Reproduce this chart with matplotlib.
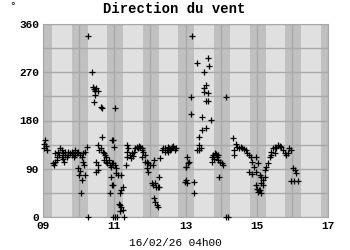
import matplotlib
matplotlib.use("Agg")
from matplotlib import pyplot as plt
import numpy as np

# jour (decimal, fevrier) et direction du vent en degres
jours = [9.03, 9.03, 9.06, 9.08, 9.10,
         9.29, 9.31, 9.34, 9.34, 9.38, 9.38, 9.43, 9.45, 9.48, 9.52, 9.52, 9.57, 9.57, 9.60,
         9.62, 9.62, 9.67, 9.71, 9.71, 9.76, 9.81, 9.81, 9.85, 9.88, 9.90, 9.90, 9.95, 9.99,
         10.04, 10.09, 10.13, 10.18, 10.23,
         9.99, 10.04, 10.02, 10.18, 10.09, 10.06, 10.11, 10.14,
         10.27, 10.27, 10.37, 10.40, 10.42, 10.45, 10.48, 10.55, 10.45, 10.43, 10.62, 10.65,
         10.65, 10.93, 11.01,
         10.55, 10.58, 10.62, 10.67, 10.70, 10.74, 10.78, 10.72, 10.76, 10.80, 10.84, 10.88,
         10.91, 10.94, 10.50, 10.55,
         10.53, 10.50, 10.91, 10.93, 10.89, 10.97,
         10.97, 11.00, 10.97, 11.01, 11.06, 11.04, 11.10, 11.18, 10.97,
         11.16, 11.20, 11.25, 11.13, 11.16, 11.20, 11.25, 11.17, 11.03, 11.07, 11.27,
         11.36, 11.38, 11.37, 11.36, 11.34,
         11.45, 11.50, 11.54, 11.59, 11.64, 11.69, 11.73, 11.78, 11.66, 11.48, 11.52,
         11.78, 11.82, 11.87, 11.78, 11.85, 11.92, 11.96, 12.01, 11.92, 11.96,
         12.12, 12.10, 12.25,
         12.06, 12.10, 12.15, 12.18, 12.22, 12.26,
         12.12, 12.15, 12.20, 12.24,
         12.29,
         12.34, 12.38, 12.43, 12.47, 12.50, 12.54, 12.57, 12.62, 12.66, 12.70, 12.43, 12.52,
         12.60, 12.74,
         13.00, 13.00,
         13.19, 13.32, 13.62, 13.66, 13.52,
         13.52, 13.57, 13.52, 13.62, 13.57, 13.62,
         13.15, 14.13,
         13.15, 13.47, 13.71,
         13.57, 13.47, 13.38,
         13.38, 13.43, 13.38, 13.33,
         13.05, 13.10, 13.02, 13.07,
         12.98, 13.05, 13.24, 13.24,
         13.75, 13.78, 13.82, 13.85, 13.80, 13.88, 13.92, 13.97, 14.02, 14.06, 13.74, 13.90,
         13.94,
         14.13, 14.18,
         14.32, 14.41, 14.46, 14.50, 14.37, 14.60, 14.69, 14.74, 14.79, 14.83, 14.88, 14.79,
         14.88, 14.93, 14.97, 15.02, 15.07, 14.35, 14.55, 14.65,
         14.98, 15.03, 14.98, 15.08, 15.12, 15.17, 15.22, 15.12, 15.17, 15.08, 15.03, 15.12,
         15.22, 15.26, 15.31, 15.36, 15.40, 15.45, 15.50, 15.54, 15.59, 15.64, 15.69, 15.73,
         15.78, 15.82, 15.87, 15.92, 15.97, 15.50, 15.40,
         16.01, 16.08, 16.11, 15.97, 16.06, 16.15]

direction = [136, 128, 143, 132, 125,
             100, 97, 103, 119, 106, 112, 122, 116, 128, 125, 112, 119, 109, 103,
             122, 116, 112, 122, 116, 119, 116, 122, 119, 112, 125, 116, 119, 122,
             116, 112, 119, 122, 131,
             91, 85, 78, 78, 69, 45, 103, 97,
             338, 0, 270, 243, 239, 235, 240, 235, 227, 215, 206, 203,
             150, 144, 203,
             134, 125, 128, 122, 119, 116, 112, 106, 103, 100, 106, 97,
             94, 100, 103, 97,
             88, 84, 75, 60, 45, 0,
             143, 131, 100, 97, 91, 83, 78, 78, 60,
             45, 50, 56, 25, 22, 19, 13, 11, 0, 0, 0,
             134, 128, 122, 112, 97,
             116, 119, 122, 128, 131, 133, 131, 128, 129, 110, 114,
             125, 122, 116, 112, 103, 103, 100, 97, 91, 84,
             106, 97, 75,
             63, 60, 63, 56, 56, 56,
             35, 28, 22, 19,
             110,
             125, 128, 128, 125, 131, 128, 125, 131, 133, 125, 122, 122,
             127, 128,
             69, 94,
             338, 287, 296, 282, 270,
             240, 246, 234, 231, 216, 216,
             224, 224,
             192, 187, 181,
             166, 162, 150,
             134, 128, 125, 125,
             112, 103, 94, 100,
             66, 63, 66, 45,
             112, 116, 120, 118, 108, 112, 106, 103, 100, 97, 103, 115,
             75,
             0, 0,
             147, 137, 131, 128, 116, 128, 125, 119, 116, 112, 103, 84,
             81, 94, 60, 53, 50, 125, 130, 127,
             112, 100, 84, 78, 75, 69, 75, 63, 60, 50, 47, 45,
             88, 94, 100, 112, 122, 128, 131, 128, 134, 132, 131, 125,
             119, 116, 120, 128, 125, 119, 116,
             91, 87, 82, 68, 68, 68]

x_ticks = [9, 11, 13, 15, 17]
x_labels = ["09", "11", "13", "15", "17"]
y_ticks = [0, 90, 180, 270, 360]

mono = "Liberation Mono"

fig = plt.figure(figsize=(3.5, 2.5), dpi=100)
ax = fig.add_axes([0.123, 0.132, 0.814, 0.772])
ax.set_facecolor("#e0e0e0")

# bandes de nuit (env. 19h15 -> 06h00)
for d in range(8, 17):
    ax.axvspan(d + 19.2 / 24, d + 1 + 6.0 / 24, color="#c0c0c0", lw=0, zorder=0)

ax.set_xlim(9, 17)
ax.set_ylim(0, 360)

ax.set_xticks(range(9, 18))
ax.set_xticklabels([x_labels[x_ticks.index(d)] if d in x_ticks else "" for d in range(9, 18)])
ax.set_yticks(range(0, 361, 45))
ax.set_yticklabels([str(v) if v in y_ticks else "" for v in range(0, 361, 45)])
ax.grid(True, color="#a8a8a8", lw=1, zorder=1)
ax.set_axisbelow(True)
ax.tick_params(length=0, labelsize=8, pad=3)
for lab in ax.get_xticklabels() + ax.get_yticklabels():
    lab.set_family(mono)
    lab.set_weight("bold")
for s in ax.spines.values():
    s.set_color("#a8a8a8")

ax.plot(jours, direction, "+", color="black", ms=5, mew=0.9, zorder=3, clip_on=False)

fig.text(0.499, 0.965, "Direction du vent", ha="center", va="center",
         family=mono, weight="bold", size=10)
fig.text(0.036, 0.996, "°", ha="center", va="top", family=mono, size=8)
fig.text(0.501, 0.027, "16/02/26 04h00", ha="center", va="center", family=mono, size=8)

fig.savefig("out.png", dpi=100)
